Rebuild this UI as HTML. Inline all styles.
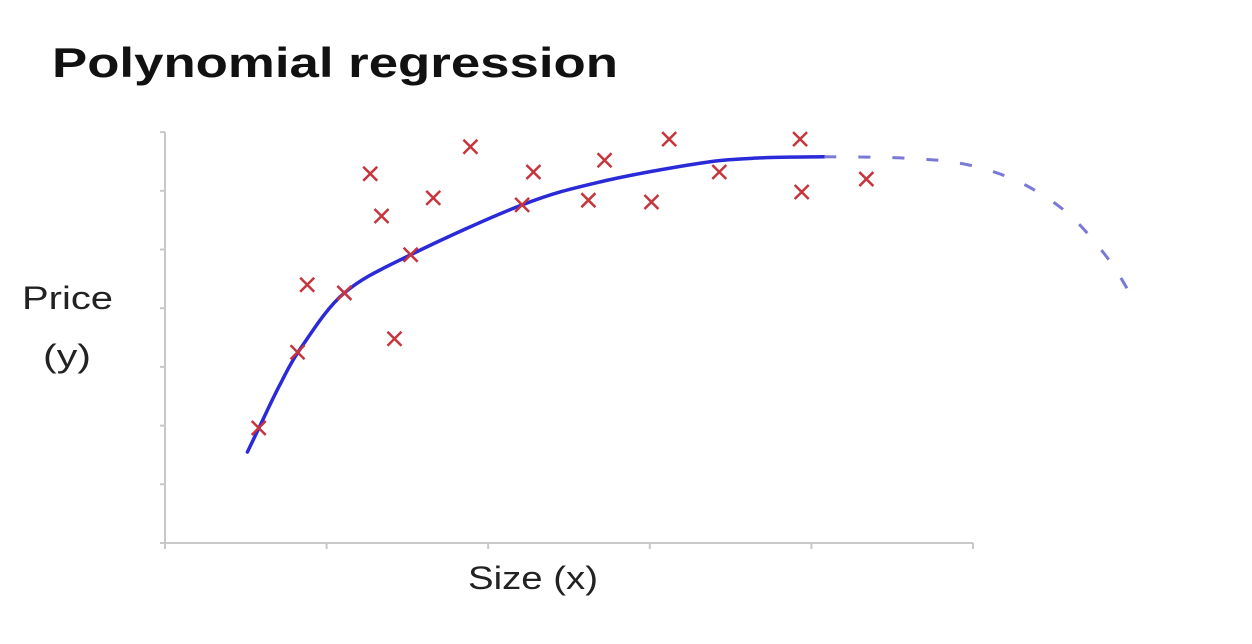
<!DOCTYPE html>
<html><head><meta charset="utf-8"><style>
html,body{margin:0;padding:0;background:#fff;width:1252px;height:644px;overflow:hidden}
svg{display:block}
</style></head><body>
<svg id="chart" width="1252" height="644" viewBox="0 0 1252 644" xmlns="http://www.w3.org/2000/svg" font-family="Liberation Sans, sans-serif">
<text x="52" y="77" font-size="42" font-weight="bold" fill="#111" textLength="566" lengthAdjust="spacingAndGlyphs">Polynomial regression</text>
<text x="22" y="309" font-size="32" fill="#222" textLength="91" lengthAdjust="spacingAndGlyphs">Price</text>
<text x="43" y="367" font-size="32" fill="#222" textLength="48" lengthAdjust="spacingAndGlyphs">(y)</text>
<text x="468" y="589" font-size="32" fill="#222" textLength="130" lengthAdjust="spacingAndGlyphs">Size (x)</text>
<g id="axes"></g>
<g id="marks"></g>
</svg>
<script>
const xTicks = [0,1,2,3,4,5];
const yTicks = [0,1,2,3,4,5,6,7];
const pointX = [0.58,0.82,0.88,1.11,1.27,1.34,1.42,1.52,1.66,1.89,2.21,2.28,2.62,2.72,3.01,3.12,3.43,3.93,3.94,4.34];
const pointY = [1.96,3.25,4.40,4.26,6.29,5.57,3.48,4.91,5.88,6.75,5.76,6.32,5.84,6.52,5.81,6.88,6.32,6.88,5.98,6.20];
const fitX = [0.51,0.59,0.71,0.84,1.11,1.52,2.21,2.69,3.31,3.68,4.08];
const fitY = [1.55,2.01,2.69,3.32,4.26,4.91,5.76,6.15,6.47,6.56,6.58];
const extX = [4.08,4.55,4.92,5.23,5.48,5.66,5.85,5.98];
const extY = [6.58,6.56,6.47,6.22,5.84,5.42,4.79,4.21];

const X0=165, Y0=543, XS=161.6, YS=58.7;
const sx = v => X0 + v*XS;
const sy = v => Y0 - v*YS;
const NS='http://www.w3.org/2000/svg';
const axes=document.getElementById('axes');
const marks=document.getElementById('marks');
function mk(tag,attrs,parent){const e=document.createElementNS(NS,tag);for(const k in attrs)e.setAttribute(k,attrs[k]);parent.appendChild(e);return e;}
function smooth(xs,ys){
  const P=xs.map((x,i)=>[sx(x),sy(ys[i])]);
  let d='M'+P[0][0]+' '+P[0][1];
  for(let i=0;i<P.length-1;i++){
    const p0=P[Math.max(0,i-1)],p1=P[i],p2=P[i+1],p3=P[Math.min(P.length-1,i+2)];
    const c1=[p1[0]+(p2[0]-p0[0])/6,p1[1]+(p2[1]-p0[1])/6];
    const c2=[p2[0]-(p3[0]-p1[0])/6,p2[1]-(p3[1]-p1[1])/6];
    d+=` C${c1[0]} ${c1[1]} ${c2[0]} ${c2[1]} ${p2[0]} ${p2[1]}`;
  }
  return d;
}

let a=mk('line',{x1:sx(0),y1:sy(0),x2:sx(0),y2:sy(7),stroke:'#c8c8c8','stroke-width':2},axes);


a=mk('line',{x1:sx(0),y1:sy(0),x2:sx(5),y2:sy(0),stroke:'#c8c8c8','stroke-width':2},axes);


yTicks.forEach(t=>{const e=mk('line',{x1:sx(0)-5,y1:sy(t),x2:sx(0),y2:sy(t),stroke:'#c8c8c8','stroke-width':2},axes);

});
xTicks.forEach(t=>{const e=mk('line',{x1:sx(t),y1:sy(0),x2:sx(t),y2:sy(0)+6,stroke:'#c8c8c8','stroke-width':2},axes);

});

let p=mk('path',{d:smooth(fitX,fitY),fill:'none',stroke:'#2a2ad8','stroke-width':3.5,'stroke-linecap':'round','stroke-linejoin':'round'},marks);


p=mk('path',{d:smooth(extX,extY),fill:'none',stroke:'#7a7ad6','stroke-width':3,'stroke-dasharray':'12 22'},marks);



pointX.forEach((x,i)=>{const cx=sx(x),cy=sy(pointY[i]),r=7;
const g=mk('path',{d:`M${cx-r} ${cy-r}L${cx+r} ${cy+r}M${cx-r} ${cy+r}L${cx+r} ${cy-r}`,stroke:'#c8343c','stroke-width':2.5,fill:'none'},marks);

});
</script>
</body></html>
